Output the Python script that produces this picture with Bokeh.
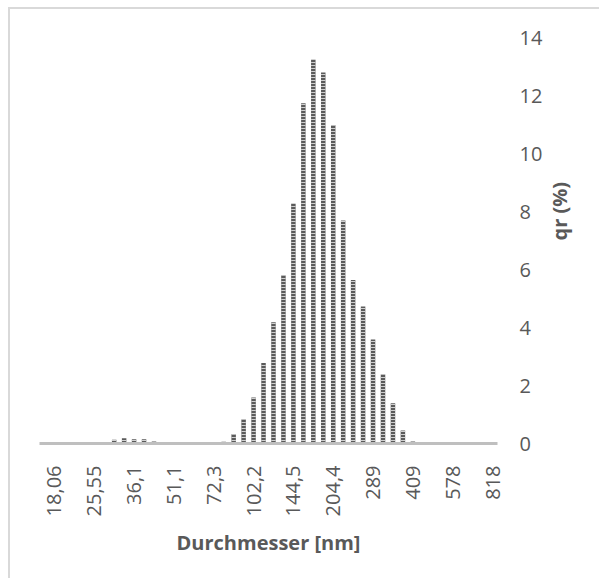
import math
from bokeh.plotting import figure
from bokeh.layouts import column
from bokeh.models import Range1d, FixedTicker, Div
from bokeh.embed import file_html
from bokeh.resources import INLINE

# Particle size distribution: qr (%) per size class (46 classes, index 0..45)
qr = [0, 0, 0, 0, 0, 0, 0, 0.13, 0.18, 0.15, 0.15, 0.07,
      0, 0, 0, 0, 0, 0, 0.06, 0.32, 0.83, 1.59, 2.78, 4.18,
      5.79, 8.27, 11.73, 13.23, 12.79, 10.97, 7.69, 5.64, 4.72, 3.59,
      2.38, 1.39, 0.45, 0.07, 0, 0, 0, 0, 0.04, 0.04, 0, 0]
# tick labels (every 4th class, starting with class 1)
tick_labels = ["18,06", "25,55", "36,1", "51,1", "72,3", "102,2",
               "144,5", "204,4", "289", "409", "578", "818"]
y_ticks = [0, 2, 4, 6, 8, 10, 12, 14]

FONT = "Open Sans"
TXT = "#595959"

x = list(range(len(qr)))
tick_pos = [1 + 4 * i for i in range(len(tick_labels))]

p = figure(width=599, height=577, output_backend="svg", toolbar_location=None,
           x_range=Range1d(-0.5, len(qr) - 0.5), y_range=Range1d(0, 14),
           y_axis_location="right",
           min_border_left=39, min_border_right=102,
           min_border_top=37, min_border_bottom=134)
p.background_fill_color = "white"
p.border_fill_color = "white"
p.outline_line_color = None
p.xgrid.visible = False
p.ygrid.visible = False

p.vbar(x=x, top=qr, width=0.45, fill_color="#5a5a5a", line_color=None,
       hatch_pattern="horizontal_line", hatch_color="#cfcfcf",
       hatch_scale=3, hatch_weight=1)

xa = p.xaxis[0]
xa.ticker = FixedTicker(ticks=tick_pos)
xa.major_label_overrides = {t: l for t, l in zip(tick_pos, tick_labels)}
xa.major_label_orientation = math.pi / 2
xa.axis_line_color = "#bfbfbf"
xa.axis_line_width = 3
xa.major_tick_line_color = None
xa.minor_tick_line_color = None
xa.major_label_standoff = 16
xa.major_label_text_font = FONT
xa.major_label_text_font_size = "20px"
xa.major_label_text_color = TXT
xa.axis_label = "Durchmesser [nm]"
xa.axis_label_text_font = FONT
xa.axis_label_text_font_size = "20px"
xa.axis_label_text_font_style = "bold"
xa.axis_label_text_color = TXT
xa.axis_label_standoff = 10

ya = p.yaxis[0]
ya.ticker = FixedTicker(ticks=y_ticks)
ya.axis_line_color = None
ya.major_tick_line_color = None
ya.minor_tick_line_color = None
ya.major_label_standoff = 16
ya.major_label_text_font = FONT
ya.major_label_text_font_size = "20px"
ya.major_label_text_color = TXT
ya.axis_label = "qr (%)"
ya.axis_label_orientation = math.pi / 2
ya.axis_label_text_font = FONT
ya.axis_label_text_font_size = "20px"
ya.axis_label_text_font_style = "bold"
ya.axis_label_text_color = TXT
ya.axis_label_standoff = 14

# chart-area frame (only its top and left edges fall inside the window)
frame = Div(text='<div style="position:fixed;left:8px;top:7px;width:900px;'
                 'height:900px;border-top:2px solid #d9d9d9;'
                 'border-left:2px solid #d9d9d9;pointer-events:none;'
                 'z-index:10;"></div>',
            width=1, height=1)

layout = column(p, frame)

open("out.html", "w").write(file_html(layout, INLINE))
